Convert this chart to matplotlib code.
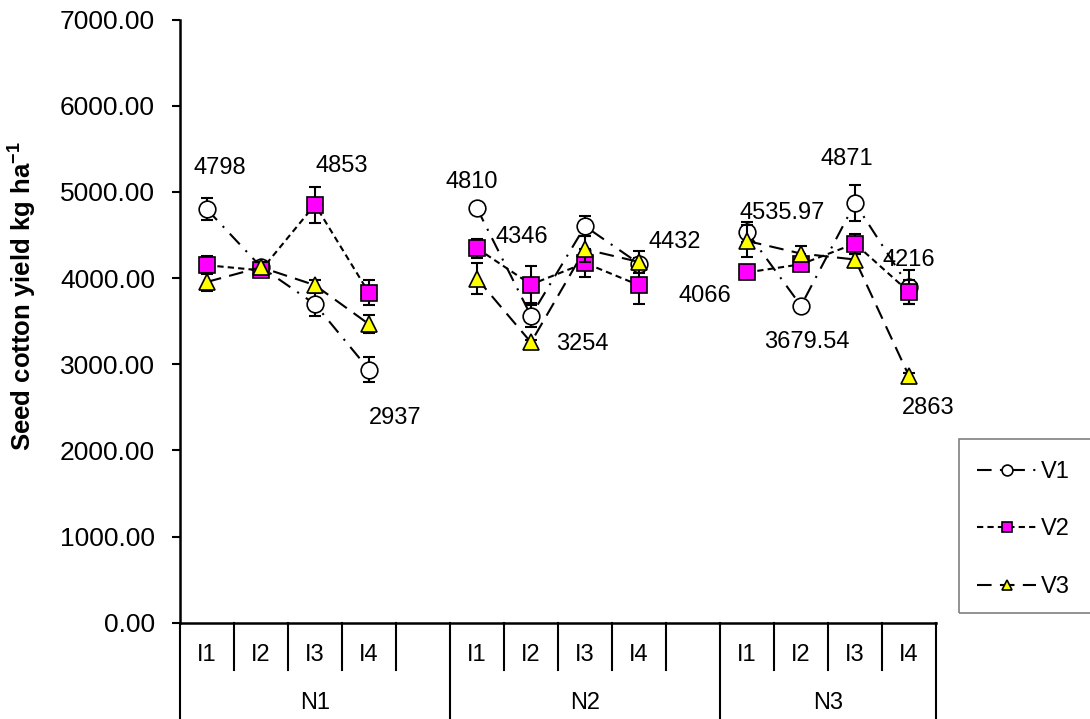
import numpy as np
import matplotlib
matplotlib.use('Agg')
import matplotlib.pyplot as plt
import matplotlib.transforms as mtransforms
from matplotlib.patches import Rectangle

plt.rcParams['font.family'] = ['Liberation Sans', 'DejaVu Sans']
plt.rcParams['mathtext.fontset'] = 'custom'
plt.rcParams['mathtext.rm'] = 'Liberation Sans'
plt.rcParams['mathtext.bf'] = 'Liberation Sans:bold'

# categories: irrigation levels inside each nitrogen group
groups = ['N1', 'N2', 'N3']
levels = ['I1', 'I2', 'I3', 'I4']

# seed cotton yield per variety, one list per N group (I1..I4)
v1 = [[4798, 4130, 3697, 2937], [4810, 3562, 4602, 4169], [4535.97, 3679.54, 4871, 3900]]
v2 = [[4150, 4090, 4853, 3828], [4346, 3926, 4176, 3918], [4066, 4161, 4401, 3840]]
v3 = [[3956, 4126, 3918, 3465], [3995, 3254, 4335, 4188], [4432, 4285, 4216, 2863]]

# standard errors
v1_err = [[128, 60, 135, 145], [30, 128, 116, 60], [116, 30, 212, 200]]
v2_err = [[104, 50, 209, 145], [110, 217, 162, 220], [40, 60, 116, 135]]
v3_err = [[104, 60, 60, 104], [180, 30, 150, 128], [190, 85, 60, 30]]

# value labels: (series, group, level, text, dx, dy) offsets in points
value_labels = [
    (0, 0, 0, '4798', 9, 30), (1, 0, 2, '4853', 19, 28), (0, 0, 3, '2937', 19, -35),
    (0, 1, 0, '4810', -4, 19), (1, 1, 0, '4346', 32, 8), (2, 1, 1, '3254', 37, -1),
    (2, 2, 0, '4432', -52, -1), (1, 2, 0, '4066', -30, -17), (0, 2, 0, '4535.97', 25, 14),
    (0, 2, 1, '3679.54', 4, -26), (0, 2, 2, '4871', -6, 32), (2, 2, 2, '4216', 39, 0),
    (2, 2, 3, '2863', 14, -23),
]


def flatten(series):
    # a blank slot after N1 and N2 breaks the lines between groups
    out = []
    for k, vals in enumerate(series):
        out.extend(vals)
        if k < len(series) - 1:
            out.append(np.nan)
    return np.array(out, dtype=float)


n_cat = len(groups) * (len(levels) + 1) - 1
x = np.arange(n_cat) + 0.5

fig = plt.figure(figsize=(10.9, 7.19), dpi=100)
ax = fig.add_axes([180 / 1090, 96.3 / 719, 756 / 1090, 603 / 719])

styles = [
    dict(label='V1', data=v1, err=v1_err, marker='o', mfc='white', ms=12, dashes=(7, 4, 1, 4)),
    dict(label='V2', data=v2, err=v2_err, marker='s', mfc='#ff00ff', ms=11.5, dashes=(3, 2)),
    dict(label='V3', data=v3, err=v3_err, marker='^', mfc='#ffff00', ms=12, dashes=(7, 4)),
]

handles = []
for z, st in enumerate(styles):
    y = flatten(st['data'])
    e = flatten(st['err'])
    ax.errorbar(x, y, yerr=e, fmt='none', ecolor='black', elinewidth=1.5,
                capsize=4.5, capthick=1.5, zorder=2 + 2 * z)
    line, = ax.plot(x, y, color='black', lw=1.5, dashes=st['dashes'],
                    marker=st['marker'], ms=st['ms'], mfc=st['mfc'], mec='black',
                    mew=1.2, zorder=3 + 2 * z, label=st['label'])
    handles.append(line)

all_series = [v1, v2, v3]
for s, g, l, txt, dx, dy in value_labels:
    xi = g * (len(levels) + 1) + l + 0.5
    ax.annotate(txt, (xi, all_series[s][g][l]), xytext=(dx, dy), textcoords='offset points',
                ha='center', va='center', fontsize=17, zorder=10)

ax.set_xlim(0, n_cat)
ax.set_ylim(0, 7000)
ax.set_yticks(np.arange(0, 7001, 1000))
ax.set_yticklabels(['%.2f' % t for t in np.arange(0, 7001, 1000)], fontsize=19)
ax.tick_params(axis='y', direction='out', length=6, width=1.5, pad=12)
ax.set_xticks([])
for side in ['top', 'right']:
    ax.spines[side].set_visible(False)
ax.spines['left'].set_linewidth(1.8)
ax.spines['bottom'].set_linewidth(1.8)

# two-level category axis
trans = mtransforms.blended_transform_factory(ax.transData, ax.transAxes)
short = -47.3 / 603
long_ = -96.3 / 603
for g in range(len(groups)):
    start = g * (len(levels) + 1)
    for l, name in enumerate(levels):
        ax.text(start + l + 0.5, -32.3 / 603, name, transform=trans, ha='center',
                va='center', fontsize=17)
    for b in range(1, len(levels) + 1):
        if start + b < n_cat:
            ax.plot([start + b, start + b], [0, short], transform=trans, color='black',
                    lw=1.5, clip_on=False)
    end = min(start + len(levels) + 1, n_cat)
    ax.text((start + end) / 2, -80.3 / 603, groups[g], transform=trans, ha='center',
            va='center', fontsize=17)
for b in [0, 5, 10, 14]:
    ax.plot([b, b], [0, long_], transform=trans, color='black', lw=1.5, clip_on=False)

fig.text(22 / 1090, 1 - 296 / 719, r'Seed cotton yield kg ha$^{\mathbf{-1}}$',
         rotation=90, ha='center', va='center', fontsize=18.5, fontweight='bold')

# legend box
fig.patches.append(Rectangle((959 / 1090, 1 - 613 / 719), 140 / 1090, 174 / 719,
                             transform=fig.transFigure, fill=False, edgecolor='#808080',
                             lw=1.2))
fig.legend(handles=handles, loc='upper left', bbox_to_anchor=(977 / 1090, 1 - 461 / 719),
           frameon=False, fontsize=17, handlelength=2.5, handletextpad=0.2,
           labelspacing=1.5, markerscale=0.65, borderaxespad=0, borderpad=0)

fig.savefig('out.png', dpi=100)
